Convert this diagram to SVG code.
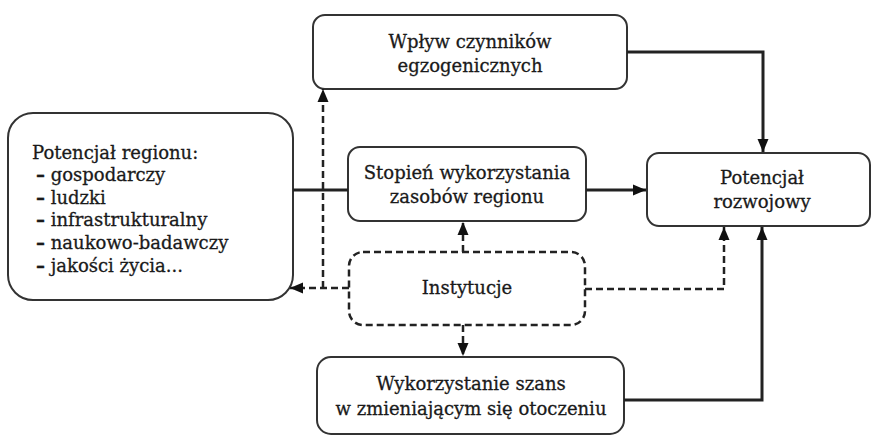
<svg xmlns="http://www.w3.org/2000/svg" width="875" height="435" viewBox="0 0 875 435">
<style>
.box{fill:#fff;stroke:#333;stroke-width:2}
.dbox{fill:#fff;stroke:#222;stroke-width:2.5;stroke-dasharray:7 4}
.t{font-family:"DejaVu Serif",serif;font-size:18px;fill:#1a1a1a;stroke:#1a1a1a;stroke-width:0.3}
.c{text-anchor:middle}
.b{font-weight:bold}
.s{fill:none;stroke:#222;stroke-width:3}
.d{fill:none;stroke:#222;stroke-width:2.5;stroke-dasharray:7 4}
</style>
<defs>
<marker id="a" markerUnits="userSpaceOnUse" markerWidth="14" markerHeight="14" viewBox="0 0 14 14" refX="13" refY="7" orient="auto">
<path d="M0,1.5 L13,7 L0,12.5 Z" fill="#111"/>
</marker>
</defs>
<g id="node-wplyw">
<rect class="box" x="313" y="15" width="314" height="74" rx="12"/>
<text class="t c" x="470" y="48">Wpływ czynników</text>
<text class="t c" x="470" y="72">egzogenicznych</text>
</g>
<g id="node-potencjal-regionu">
<rect class="box" x="8" y="113" width="285" height="187" rx="25"/>
<text class="t" x="32" y="159">Potencjał regionu:</text>
<text class="t" x="36" y="181"><tspan class="b">–</tspan> gospodarczy</text>
<text class="t" x="36" y="204"><tspan class="b">–</tspan> ludzki</text>
<text class="t" x="36" y="226"><tspan class="b">–</tspan> infrastrukturalny</text>
<text class="t" x="36" y="249"><tspan class="b">–</tspan> naukowo-badawczy</text>
<text class="t" x="36" y="272"><tspan class="b">–</tspan> jakości życia...</text>
</g>
<g id="node-stopien">
<rect class="box" x="348" y="147" width="238" height="74" rx="12"/>
<text class="t c" x="467" y="179">Stopień wykorzystania</text>
<text class="t c" x="467" y="203">zasobów regionu</text>
</g>
<g id="node-potencjal-rozwojowy">
<rect class="box" x="647" y="153" width="223" height="73" rx="12"/>
<text class="t c" x="762" y="184">Potencjał</text>
<text class="t c" x="762" y="208">rozwojowy</text>
</g>
<g id="node-instytucje">
<rect class="dbox" x="349" y="252" width="236" height="73" rx="14"/>
<text class="t c" x="467" y="294">Instytucje</text>
</g>
<g id="node-wykorzystanie">
<rect class="box" x="317" y="357" width="307" height="77" rx="14"/>
<text class="t c" x="471" y="390">Wykorzystanie szans</text>
<text class="t c" x="471" y="415">w zmieniającym się otoczeniu</text>
</g>
<g id="connectors">
<path class="s" d="M627,52 H763 V152" marker-end="url(#a)"/>
<path class="s" d="M293,190 H348"/>
<path class="s" d="M586,190 H646" marker-end="url(#a)"/>
<path class="s" d="M624,400 H762 V227" marker-end="url(#a)"/>
<path class="d" d="M349,288 H290" marker-end="url(#a)"/>
<path class="d" d="M323,288 V89" marker-end="url(#a)"/>
<path class="d" d="M463,252 V222" marker-end="url(#a)"/>
<path class="d" d="M463,325 V356" marker-end="url(#a)"/>
<path class="d" d="M585,289 H724 V227" marker-end="url(#a)"/>
</g>
</svg>
